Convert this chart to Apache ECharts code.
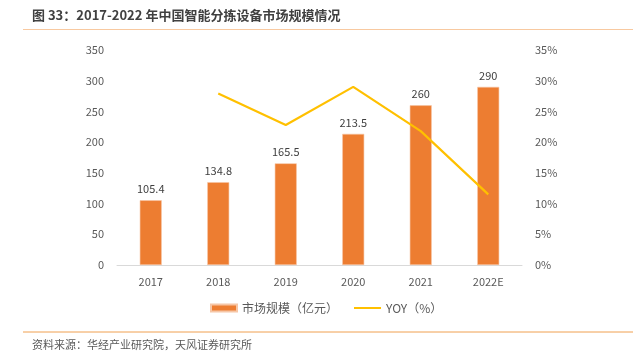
<!DOCTYPE html>
<html><head><meta charset="utf-8">
<script src="https://cdn.jsdelivr.net/npm/echarts@6/dist/echarts.min.js"></script>
<style>html,body{margin:0;padding:0;background:#fff}#c{width:633px;height:356px}</style>
</head><body><div id="c"></div>
<script>
var categories = ['2017','2018','2019','2020','2021','2022E'];
var marketSize = [105.4, 134.8, 165.5, 213.5, 260, 290];
var yoy = [null, 27.9, 22.8, 29.0, 21.8, 11.5];
var leftTicks = [0, 50, 100, 150, 200, 250, 300, 350];
var rightTicks = [0, 5, 10, 15, 20, 25, 30, 35];
var titleText = '图 33：2017-2022 年中国智能分拣设备市场规模情况';
var sourceText = '资料来源：华经产业研究院，天风证券研究所';

var chart = echarts.init(document.getElementById('c'), null, {renderer:'canvas'});
var font = '"Microsoft YaHei","Noto Sans CJK SC","Noto Sans",sans-serif';
chart.setOption({
  animation:false,
  textStyle:{fontFamily:font},
  graphic:[
    {type:'text', left:32, top:9, style:{text:titleText, font:'bold 13px '+font, fill:'#404040'}},
    {type:'line', shape:{x1:23,y1:29.5,x2:633,y2:29.5}, style:{stroke:'#F8C9A0', lineWidth:1.2}},
    {type:'line', shape:{x1:23,y1:332,x2:633,y2:332}, style:{stroke:'#F0A050', lineWidth:1}},
    {type:'text', left:32, top:339, style:{text:sourceText, font:'11px '+font, fill:'#595959'}}
  ],
  legend:[
    {top:302, left:210, itemWidth:26, itemHeight:7, itemGap:0, padding:0,
     textStyle:{fontSize:12, color:'#595959'},
     data:[{name:'市场规模（亿元）', icon:'rect'}]},
    {top:302, left:354, itemWidth:27, itemHeight:2, itemGap:0, padding:0,
     textStyle:{fontSize:12, color:'#595959'},
     data:[{name:'YOY（%）', icon:'rect'}]}
  ],
  grid:{left:117, right:111, top:50, bottom:91},
  xAxis:{
    type:'category', data:categories,
    axisLine:{lineStyle:{color:'#D9D9D9'}}, axisTick:{show:false},
    axisLabel:{color:'#595959', fontSize:11, margin:11}
  },
  yAxis:[
    {type:'value', min:leftTicks[0], max:leftTicks[leftTicks.length-1], interval:50,
     splitLine:{show:false}, axisLine:{show:false}, axisTick:{show:false},
     axisLabel:{color:'#595959', fontSize:11, margin:13}},
    {type:'value', min:rightTicks[0], max:rightTicks[rightTicks.length-1], interval:5,
     splitLine:{show:false}, axisLine:{show:false}, axisTick:{show:false},
     axisLabel:{color:'#595959', fontSize:11, margin:13, formatter:'{value}%'}}
  ],
  series:[
    {name:'市场规模（亿元）', type:'bar', data:marketSize, barWidth:22,
     itemStyle:{color:'#ED7D31', borderColor:'#F6C6A6', borderWidth:0.6},
     label:{show:true, position:'top', color:'#404040', fontSize:11, distance:6}},
    {name:'YOY（%）', type:'line', yAxisIndex:1, data:yoy, symbol:'none',
     lineStyle:{color:'#FFC000', width:2.2}, itemStyle:{color:'#FFC000'}}
  ]
});
</script></body></html>
